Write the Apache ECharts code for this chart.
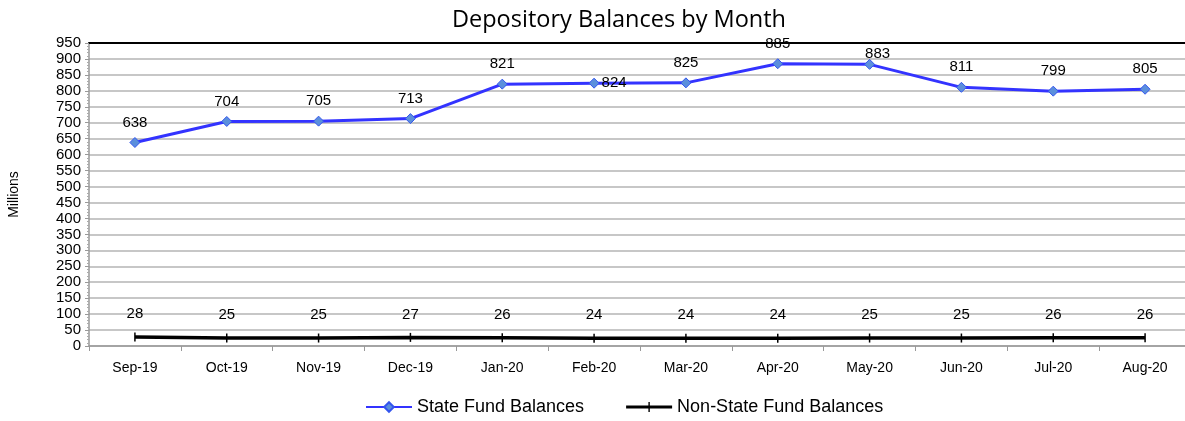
<!DOCTYPE html>
<html>
<head>
<meta charset="utf-8">
<script src="https://cdn.jsdelivr.net/npm/echarts@6/dist/echarts.min.js"></script>
<style>
  html, body { margin: 0; padding: 0; background: #fff; }
  #chart { width: 1185px; height: 421px; }
</style>
</head>
<body>
<div id="chart"></div>
<script>
// Monthly depository balances, in millions
const months = ['Sep-19', 'Oct-19', 'Nov-19', 'Dec-19', 'Jan-20', 'Feb-20',
                'Mar-20', 'Apr-20', 'May-20', 'Jun-20', 'Jul-20', 'Aug-20'];
const stateFund = [638, 704, 705, 713, 821, 824, 825, 885, 883, 811, 799, 805];
const nonStateFund = [28, 25, 25, 27, 26, 24, 24, 24, 25, 25, 26, 26];
const yTicks = { min: 0, max: 950, step: 50 };

const narrow = '"Liberation Sans Narrow", "Arial Narrow", "Liberation Sans", sans-serif';

// Some state labels sit beside their marker to avoid the line
const stateData = stateFund.map((v, i) => {
  const item = { value: v };
  if (months[i] === 'Feb-20') item.label = { position: 'right', distance: 2 };
  if (months[i] === 'May-20') item.label = { position: 'right', distance: -10, offset: [0, -11] };
  return item;
});

const chart = echarts.init(document.getElementById('chart'));
chart.setOption({
  animation: false,
  title: {
    text: 'Depository Balances by Month',
    left: 447,
    top: 3,
    textStyle: { fontFamily: '"Open Sans", "Noto Sans", sans-serif', fontSize: 23.5, fontWeight: 'normal', color: '#000' }
  },
  legend: {
    bottom: 0,
    left: 360,
    itemWidth: 46,
    itemHeight: 12,
    itemGap: 42,
    textStyle: { fontFamily: narrow, fontSize: 18, color: '#000' },
    data: [
      { name: 'State Fund Balances' },
      {
        name: 'Non-State Fund Balances',
        icon: 'path://M0,4.5 L46,4.5 L46,7.5 L0,7.5 Z M22.3,1 L23.7,1 L23.7,11 L22.3,11 Z'
      }
    ]
  },
  grid: { left: 89, top: 43, width: 1102, height: 303, containLabel: false, outerBoundsMode: 'none' },
  xAxis: [{
    type: 'category',
    data: months,
    boundaryGap: true,
    axisLine: { lineStyle: { color: '#999', width: 1.5 } },
    axisTick: { show: true, length: 5, lineStyle: { color: '#999' } },
    axisLabel: { fontFamily: narrow, fontSize: 14, color: '#000', margin: 15 }
  }, {
    type: 'category',
    position: 'top',
    data: months,
    axisLine: { lineStyle: { color: '#000', width: 2 } },
    axisTick: { show: false },
    axisLabel: { show: false }
  }],
  yAxis: {
    type: 'value',
    name: 'Millions',
    nameLocation: 'middle',
    nameGap: 68,
    nameRotate: 90,
    nameTextStyle: { fontFamily: narrow, fontSize: 14, color: '#000' },
    min: yTicks.min,
    max: yTicks.max,
    interval: yTicks.step,
    axisLine: { show: true, lineStyle: { color: '#999', width: 1.5 } },
    axisTick: { show: true, length: 4, lineStyle: { color: '#999' } },
    minorTick: { show: true, splitNumber: 5, length: 2, lineStyle: { color: '#aaa' } },
    axisLabel: { fontFamily: narrow, fontSize: 15, color: '#000', margin: 8 },
    splitLine: { lineStyle: { color: '#b5b5b5', width: 1.5 } }
  },
  series: [{
    name: 'State Fund Balances',
    type: 'line',
    data: stateData,
    symbol: 'diamond',
    symbolSize: 10,
    lineStyle: { color: '#3333ff', width: 3 },
    itemStyle: { color: '#5b8fdc', borderColor: '#3355ee', borderWidth: 1 },
    label: {
      show: true,
      position: 'top',
      distance: 7,
      fontFamily: narrow,
      fontSize: 15,
      color: '#000'
    },
    z: 3
  }, {
    name: 'Non-State Fund Balances',
    type: 'line',
    data: nonStateFund,
    symbol: 'rect',
    symbolSize: [1.5, 9],
    lineStyle: { color: '#000', width: 3.5 },
    itemStyle: { color: '#000' },
    label: {
      show: true,
      position: 'top',
      distance: 11,
      fontFamily: narrow,
      fontSize: 15,
      color: '#000'
    },
    z: 2
  }]
});
</script>
</body>
</html>
